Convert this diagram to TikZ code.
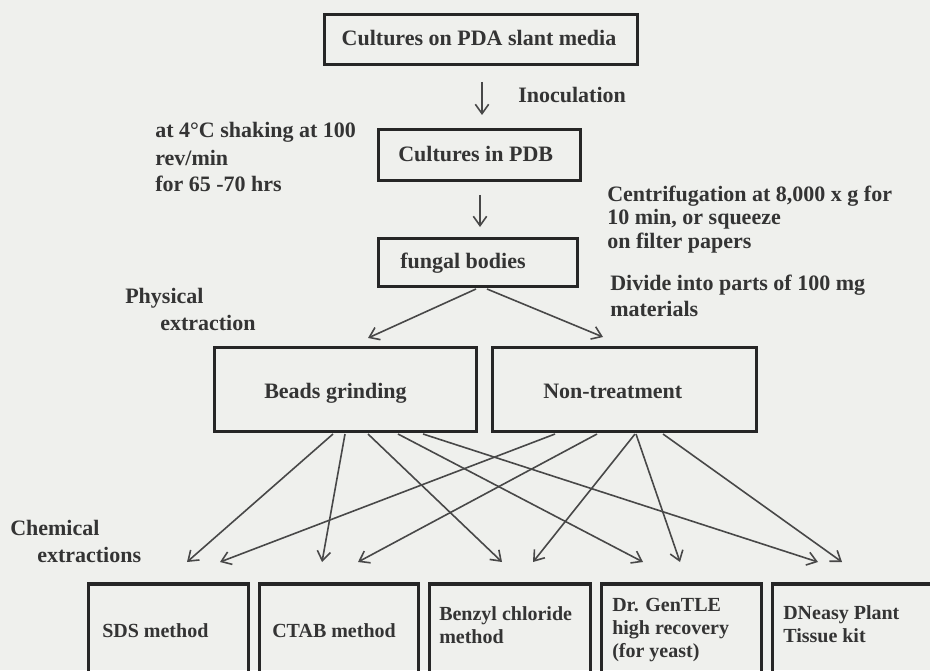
\documentclass[tikz,border=0pt]{standalone}
\usepackage{fontspec}
\setmainfont{Liberation Serif}
\usetikzlibrary{arrows.meta}
\definecolor{bg}{RGB}{239,240,237}
\definecolor{ink}{RGB}{52,52,52}
\definecolor{boxline}{RGB}{38,38,38}
\definecolor{arr}{RGB}{72,72,72}
\newcommand\pxl[1]{#1*0.75pt}
\begin{document}
\begin{tikzpicture}[x=0.75pt,y=-0.75pt,
  box/.style={draw=boxline,line width=2.5pt,inner sep=0pt},
  lbl/.style={text=ink,font=\fontsize{16.5}{20}\selectfont\bfseries,inner sep=0pt,anchor=base west},
  smalllbl/.style={text=ink,font=\fontsize{15}{17.25}\selectfont\bfseries,inner sep=0pt,anchor=base west,align=left},
  flow/.style={draw=arr,line width=1.2pt,-{Straight Barb[length=7pt,width=10pt,line width=1.2pt]}}]
\useasboundingbox[fill=bg] (0,0) rectangle (930,670);
\clip (0,0) rectangle (930,670);

% boxes
\node[box,minimum width=\pxl{313},minimum height=\pxl{50}] (pda) at (481,39.5) {};
\node[box,minimum width=\pxl{202},minimum height=\pxl{51}] (pdb) at (479.5,155) {};
\node[box,minimum width=\pxl{199},minimum height=\pxl{48}] (fung) at (478,262.5) {};
\node[box,minimum width=\pxl{262},minimum height=\pxl{84}] (beads) at (345.5,389.5) {};
\node[box,minimum width=\pxl{264},minimum height=\pxl{84}] (non) at (624.5,389.5) {};
\node[box,minimum width=\pxl{160},minimum height=\pxl{106}] (sds) at (168.5,637) {};
\node[box,minimum width=\pxl{159},minimum height=\pxl{106}] (ctab) at (339,637) {};
\node[box,minimum width=\pxl{161},minimum height=\pxl{106}] (benz) at (510,637) {};
\node[box,minimum width=\pxl{160},minimum height=\pxl{106}] (drg) at (681.5,637) {};
\node[box,minimum width=\pxl{186},minimum height=\pxl{106}] (dne) at (865.5,637) {};

% texts in boxes (multi-line nodes: base = baseline of last line)
\node[lbl,anchor=base] (tpda) at (479,46) {Cultures on PDA slant media};
\node[lbl] (tpdb) at (398,162) {Cultures in PDB};
\node[lbl] (tfung) at (400,268) {fungal bodies};
\node[lbl] (tbeads) at (264,398) {Beads grinding};
\node[lbl] (tnon) at (543,398) {Non-treatment};
\node[smalllbl] (tsds) at (102,637) {SDS method};
\node[smalllbl] (tctab) at (272,637) {CTAB method};
\node[smalllbl] (tbenz) at (439,643) {Benzyl chloride\\method};
\node[smalllbl] (tdrg) at (612,657) {Dr. GenTLE\\high recovery\\(for yeast)};
\node[smalllbl] (tdne) at (783,642) {DNeasy Plant\\Tissue kit};

% side texts
\node[lbl] (inoc) at (518,103) {Inoculation};
\node[lbl,align=left,font=\fontsize{16.5}{20.25}\selectfont\bfseries] (cond) at (155,192) {at 4°C shaking at 100\\rev/min\\for 65 -70 hrs};
\node[lbl,align=left,font=\fontsize{16.5}{17.6}\selectfont\bfseries] (centr) at (607,248) {Centrifugation at 8,000 x g for\\10 min, or squeeze\\on filter papers};
\node[lbl,align=left,font=\fontsize{16.5}{19.5}\selectfont\bfseries] (divide) at (610,316) {Divide into parts of 100 mg\\materials};
\node[lbl] (phys1) at (125,303) {Physical};
\node[lbl] (phys2) at (160,330) {extraction};
\node[lbl] (chem1) at (10,535) {Chemical};
\node[lbl] (chem2) at (37,562) {extractions};

% connector end points
\coordinate (a1s) at (482,82);  \coordinate (a1e) at (482,115);
\coordinate (a2s) at (480,195); \coordinate (a2e) at (480,227);
\coordinate (fl) at (476,289);  \coordinate (fr) at (487,289);
\coordinate (bt) at (368,338);  \coordinate (nt) at (603,337);
\coordinate (b1) at (333,434); \coordinate (b2) at (345,434); \coordinate (b3) at (368,434);
\coordinate (b4) at (398,434); \coordinate (b5) at (423,434);
\coordinate (n1) at (555,434); \coordinate (n2) at (597,434); \coordinate (n3) at (635,434);
\coordinate (n4) at (636,434); \coordinate (n5) at (663,434);
\coordinate (sdsA) at (187,562);  \coordinate (sdsB) at (220,562);
\coordinate (ctabA) at (322,562); \coordinate (ctabB) at (358,562);
\coordinate (benzA) at (502,562); \coordinate (benzB) at (533,562);
\coordinate (drgA) at (643,562);  \coordinate (drgB) at (680,562);
\coordinate (dneA) at (818,562);  \coordinate (dneB) at (842,562);

% connectors
\draw[flow] (a1s) -- (a1e);
\draw[flow] (a2s) -- (a2e);
\draw[flow] (fl) -- (bt);
\draw[flow] (fr) -- (nt);
\draw[flow] (b1) -- (sdsA);
\draw[flow] (b2) -- (ctabA);
\draw[flow] (b3) -- (benzA);
\draw[flow] (b4) -- (drgA);
\draw[flow] (b5) -- (dneA);
\draw[flow] (n1) -- (sdsB);
\draw[flow] (n2) -- (ctabB);
\draw[flow] (n3) -- (benzB);
\draw[flow] (n4) -- (drgB);
\draw[flow] (n5) -- (dneB);
\end{tikzpicture}
\end{document}
